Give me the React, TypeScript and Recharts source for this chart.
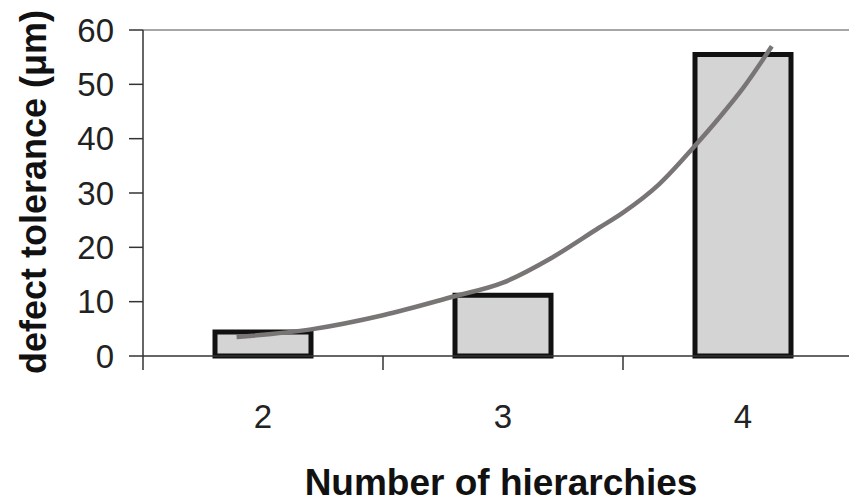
import React from 'react';
import { ComposedChart, Bar, Line, XAxis, YAxis, ReferenceLine } from 'recharts';

// hierarchies -> defect tolerance (um)
const hierarchies = ['2', '3', '4'];
const tolerance = [4.4, 11.2, 55.5];

// trend curve
const trendX = [1.89, 2.2, 2.5, 2.79, 3.0, 3.2, 3.4, 3.5, 3.65, 3.8, 3.9, 4.0, 4.12];
const trendY = [3.5, 4.9, 7.5, 10.9, 13.5, 18.0, 23.6, 26.4, 31.6, 38.7, 43.8, 49.3, 57.0];

const yTicks = [0, 10, 20, 30, 40, 50, 60];
const xTicks = [1.5, 2, 2.5, 3, 3.5, 4, 4.5];

const barData = hierarchies.map((h, i) => ({ name: h, value: tolerance[i] }));
const trendData = trendX.map((x, i) => ({ x, y: trendY[i] }));

const font = '"Liberation Sans", Arial, sans-serif';

const XTick = (props: any) => {
    const { x, y, payload } = props;
    if (Number.isInteger(payload.value)) {
        return (
            <text x={x} y={y + 72} textAnchor="middle" fontSize={33} fill="#222" fontFamily={font}>
                {payload.value}
            </text>
        );
    }
    return <line x1={x} x2={x} y1={y} y2={y + 14} stroke="#333" strokeWidth={1.5} />;
};

export default function App() {
    // plot runs a little past the right edge, like the original
    return (
        <div style={{ margin: -8, width: 857, height: 503, overflow: 'hidden', background: '#fff' }}>
            <ComposedChart
                width={863}
                height={503}
                data={barData}
                margin={{ top: 30, right: 0, left: 0, bottom: 0 }}
                barCategoryGap={72}
            >
                <XAxis xAxisId="cat" dataKey="name" type="category" hide height={0} />
                <XAxis
                    xAxisId="num"
                    dataKey="x"
                    type="number"
                    domain={[1.5, 4.5]}
                    ticks={xTicks}
                    height={147}
                    tickSize={0}
                    tickMargin={0}
                    tickLine={false}
                    tick={<XTick />}
                    axisLine={{ stroke: '#333', strokeWidth: 1.5 }}
                    label={() => (
                        <text
                            x={501}
                            y={495}
                            textAnchor="middle"
                            fontSize={37}
                            fontWeight="bold"
                            fill="#111"
                            fontFamily={font}
                        >
                            Number of hierarchies
                        </text>
                    )}
                />
                <YAxis
                    type="number"
                    domain={[0, 60]}
                    ticks={yTicks}
                    width={143}
                    tickSize={14}
                    tickMargin={15}
                    tick={{ fontSize: 33, fill: '#222', fontFamily: font }}
                    tickLine={{ stroke: '#333', strokeWidth: 1.5 }}
                    axisLine={{ stroke: '#333', strokeWidth: 1.5 }}
                    label={() => (
                        <text
                            x={33}
                            y={192}
                            transform="rotate(-90 33 192)"
                            textAnchor="middle"
                            dominantBaseline="central"
                            fontSize={36}
                            fontWeight="bold"
                            fill="#111"
                            fontFamily={font}
                        >
                            defect tolerance (μm)
                        </text>
                    )}
                />
                <ReferenceLine xAxisId="num" y={60} stroke="#888" strokeWidth={1.5} />
                <Bar
                    xAxisId="cat"
                    dataKey="value"
                    fill="#d4d4d4"
                    stroke="#111"
                    strokeWidth={5}
                    isAnimationActive={false}
                />
                <Line
                    xAxisId="num"
                    data={trendData}
                    dataKey="y"
                    type="monotone"
                    stroke="#7a7575"
                    strokeWidth={4.5}
                    dot={false}
                    isAnimationActive={false}
                />
            </ComposedChart>
        </div>
    );
}
